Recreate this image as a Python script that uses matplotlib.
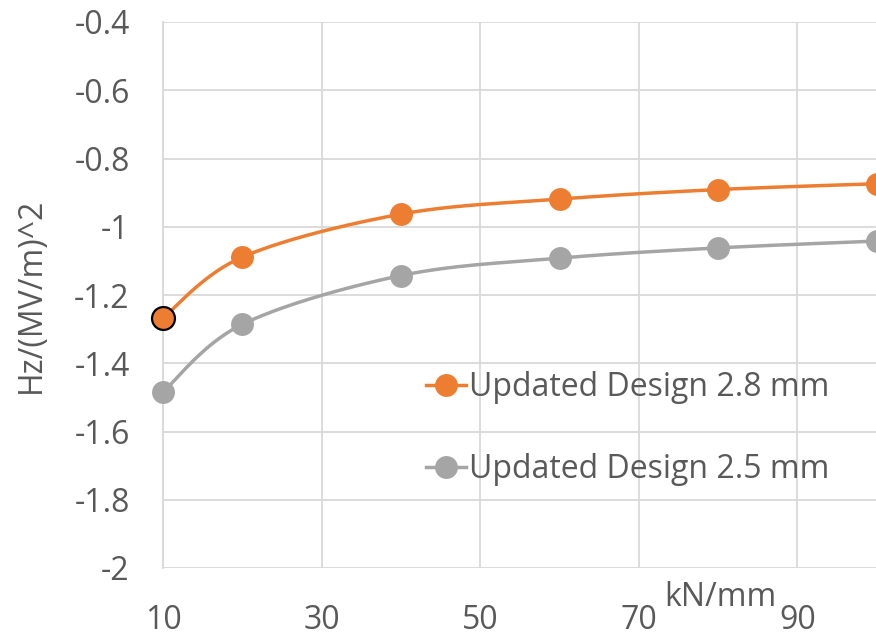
import numpy as np
import matplotlib
matplotlib.use("Agg")
import matplotlib.pyplot as plt
from matplotlib.lines import Line2D

# Stiffness (kN/mm) and sensitivity values for each design
stiffness = [10, 20, 40, 60, 80, 100]
design_28 = [-1.267, -1.089, -0.963, -0.919, -0.891, -0.874]
design_25 = [-1.484, -1.286, -1.143, -1.092, -1.062, -1.042]
x_ticks = [10, 30, 50, 70, 90]
y_ticks = [-2, -1.8, -1.6, -1.4, -1.2, -1, -0.8, -0.6, -0.4]
y_tick_labels = ["-2", "-1.8", "-1.6", "-1.4", "-1.2", "-1", "-0.8", "-0.6", "-0.4"]
series_labels = ["Updated Design 2.8 mm", "Updated Design 2.5 mm"]

ORANGE = "#ED7D31"
GRAY = "#A5A5A5"
GRID = "#D9D9D9"
TEXT = "#595959"
FS = 23
MS = 16.5

plt.rcParams["font.family"] = ["Open Sans", "DejaVu Sans"]


def smooth_curve(xs, ys, n=40):
    """Cubic Bezier smoothing through every point (Catmull-Rom style)."""
    pts = np.column_stack([xs, ys]).astype(float)
    ext = np.vstack([pts[0], pts, pts[-1]])
    out = []
    t = np.linspace(0, 1, n)[:, None]
    for i in range(len(pts) - 1):
        p0, p3 = ext[i + 1], ext[i + 2]
        c1 = p0 + (ext[i + 2] - ext[i]) / 6.0
        c2 = p3 - (ext[i + 3] - ext[i + 1]) / 6.0
        seg = ((1 - t) ** 3) * p0 + 3 * ((1 - t) ** 2) * t * c1 + 3 * (1 - t) * t ** 2 * c2 + t ** 3 * p3
        out.append(seg if i == 0 else seg[1:])
    seg = np.vstack(out)
    return seg[:, 0], seg[:, 1]


fig = plt.figure(figsize=(8.76, 6.39), dpi=100)
ax = fig.add_axes([163 / 876, 1 - 568 / 639, (956 - 163) / 876, (568 - 22) / 639])

for ys, color in [(design_28, ORANGE), (design_25, GRAY)]:
    sx, sy = smooth_curve(stiffness, ys)
    ax.plot(sx, sy, color=color, lw=2.5, solid_capstyle="round", clip_on=False, zorder=3)
    ax.plot(stiffness, ys, "o", color=color, ms=MS, mec=color, mew=0, clip_on=False, zorder=4)

# highlighted first point of the 2.8 mm series
ax.plot(stiffness[0], design_28[0], "o", color=ORANGE, ms=MS, mec="black", mew=1.6, clip_on=False, zorder=5)

ax.set_xlim(10, 110)
ax.set_ylim(-2, -0.4)
ax.set_xticks(x_ticks)
ax.set_yticks(y_ticks)
ax.set_yticklabels(y_tick_labels)
ax.xaxis.set_minor_locator(plt.FixedLocator([110]))
ax.grid(True, which="both", color=GRID, lw=1.3)
ax.set_axisbelow(True)
for s in ["top", "right", "bottom"]:
    ax.spines[s].set_visible(False)
ax.spines["left"].set_color(GRID)
ax.spines["left"].set_linewidth(1.3)
ax.tick_params(axis="both", which="both", length=0, labelsize=FS, colors=TEXT)
ax.tick_params(axis="x", pad=26)
ax.tick_params(axis="y", pad=24)

ax.set_ylabel("Hz/(MV/m)^2", fontsize=FS, color=TEXT, labelpad=19)
fig.text(720 / 876, 1 - 597 / 639, "kN/mm", fontsize=FS, color=TEXT, ha="center", va="center")

handles = [
    Line2D([], [], color=ORANGE, lw=2.5, marker="o", ms=MS, mew=0),
    Line2D([], [], color=GRAY, lw=2.5, marker="o", ms=MS, mew=0),
]
leg = fig.legend(handles, series_labels, loc="upper left", bbox_to_anchor=(410 / 876, 1 - 355 / 639),
                 frameon=False, fontsize=FS, handlelength=1.25, handletextpad=0.1,
                 labelspacing=1.55, borderpad=0)
for t in leg.get_texts():
    t.set_color(TEXT)

fig.savefig("out.png", dpi=100)
